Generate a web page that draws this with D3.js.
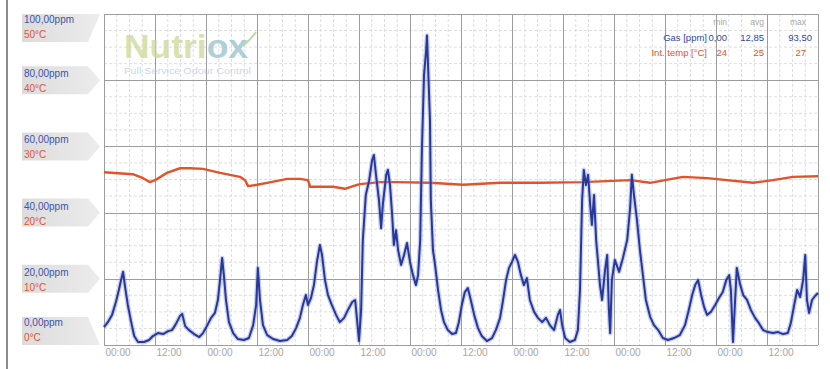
<!DOCTYPE html>
<html>
<head>
<meta charset="utf-8">
<script src="https://cdn.jsdelivr.net/npm/d3@7/dist/d3.min.js"></script>
<style>
  html, body { margin: 0; padding: 0; background: #fff; }
  svg { display: block; font-family: "Liberation Sans", Arial, sans-serif; }
</style>
</head>
<body>
<svg id="chart" width="830" height="369"></svg>
<script>
// Gas concentration (ppm) over one week, hours since the first midnight
const gasHours = [0,0.9,1.9,2.8,3.5,4.0,4.5,4.9,5.6,6.4,7.1,8.0,9.4,10.6,11.5,12.7,13.9,15.1,16.0,16.9,17.9,18.4,19.1,20.0,21.2,22.4,23.3,24.2,25.2,26.1,26.8,27.3,27.8,28.2,28.7,29.4,30.4,31.5,32.9,34.1,35.1,35.8,36.2,36.7,37.4,38.4,39.8,41.4,43.1,44.2,45.2,46.1,46.8,47.5,48.0,48.7,49.4,50.1,50.8,51.3,52.0,52.7,53.6,54.6,55.5,56.5,57.4,58.4,59.1,59.5,60.0,60.5,60.9,61.6,62.4,63.1,63.5,64.0,64.7,65.2,65.6,66.4,66.8,67.3,67.8,68.2,68.7,69.2,69.9,70.6,71.3,72.0,72.7,73.4,73.9,74.4,74.8,75.3,75.8,76.0,76.2,76.7,76.9,77.4,77.9,78.6,79.3,80.0,80.9,81.9,82.8,83.5,84.2,84.9,85.6,86.3,87.1,88.0,88.9,90.1,91.3,92.2,93.2,93.9,94.6,95.3,96.0,96.7,97.4,98.1,98.8,99.5,100.2,101.2,102.1,103.1,104.0,104.9,105.9,106.8,107.3,107.8,108.5,109.6,110.8,111.5,112.0,112.5,112.9,113.4,113.9,114.4,114.8,115.3,115.8,116.2,116.7,117.2,117.9,118.4,118.8,119.1,119.5,120.2,121.2,122.1,123.1,123.8,124.2,124.7,125.4,126.1,126.8,127.5,128.5,129.4,130.4,131.5,132.7,134.1,135.5,136.7,137.6,138.4,139.1,139.8,140.5,141.2,141.9,142.8,143.8,144.7,145.6,146.4,147.1,147.5,148.0,148.5,148.9,149.6,150.4,151.3,152.2,153.2,154.1,155.1,156.2,157.4,158.6,159.8,160.9,161.6,162.4,163.1,163.8,164.5,165.0,165.4,165.9,166.6,167.3,168.0];
const gasPpm = [5.4,6.9,9.1,13.0,16.6,19.6,22.1,18.1,12.1,6.9,2.7,0.9,0.9,1.5,2.7,3.6,3.3,4.2,4.5,6.3,8.8,9.4,5.7,4.5,3.3,2.4,3.6,5.7,8.2,9.7,13.6,19.6,26.3,21.1,13.6,6.9,3.6,1.8,1.5,2.1,6.0,12.1,23.3,13.6,6.0,3.0,1.8,1.2,1.5,2.7,5.1,8.2,12.1,15.1,12.1,14.2,18.1,25.1,30.2,27.2,19.6,15.1,12.1,9.1,6.9,8.2,10.6,13.0,13.6,8.2,1.2,10.6,31.7,45.3,49.8,55.9,57.4,51.4,43.8,35.3,42.3,51.4,52.9,48.3,39.3,30.2,34.7,28.7,24.2,27.2,30.8,25.1,21.1,18.1,21.1,31.7,58.9,81.6,89.1,93.5,86.1,68.0,43.8,28.7,24.2,16.6,10.6,6.9,4.5,3.3,3.6,6.9,12.1,16.0,17.2,13.6,9.1,5.1,2.7,1.2,2.1,4.5,8.2,13.6,19.6,23.3,25.1,27.2,25.1,21.1,18.1,20.2,13.6,10.0,8.2,6.9,8.2,6.0,4.5,9.1,10.6,6.0,2.1,0.9,1.5,4.5,16.6,43.8,52.9,48.3,51.4,42.3,36.3,45.3,31.7,25.7,18.1,13.6,22.7,27.2,10.6,3.6,19.6,25.7,22.1,26.3,31.7,41.4,51.4,45.3,37.8,28.7,21.1,13.6,8.5,6.0,4.5,2.1,1.5,2.1,3.0,6.0,10.6,15.1,18.1,19.6,15.1,11.5,9.1,10.0,12.1,14.2,16.0,19.6,21.1,16.6,0.9,13.6,23.3,18.7,15.1,13.6,10.6,8.2,6.6,4.5,3.9,3.6,3.9,3.3,3.6,6.6,12.1,16.6,14.5,19.6,27.2,13.6,9.7,13.6,14.8,15.7];

// Internal temperature (°C)
const tempHours = [0,6.8,9.2,10.8,12,14.8,17.9,20.2,23.3,27.3,32,33.2,33.9,36,38.4,43.1,46.1,48,48.5,53.9,56.7,58.6,60.2,64.9,68.9,76.7,84.5,93.2,102.6,112.7,123.8,128.5,136.2,141.9,152.7,157.4,162.1,168];
const tempC = [26.1,25.8,25.2,24.6,24.9,26.0,26.7,26.7,26.6,26.0,25.4,24.9,24.0,24.2,24.5,25.1,25.1,24.9,23.9,23.9,23.6,24.0,24.3,24.6,24.6,24.5,24.2,24.5,24.5,24.6,24.9,24.5,25.4,25.2,24.5,24.9,25.4,25.5];

// Axis labels
const tickLabels = ["00:00","12:00","00:00","12:00","00:00","12:00","00:00","12:00","00:00","12:00","00:00","12:00","00:00","12:00"];
const ppmTicks = [100, 80, 60, 40, 20, 0];
const ppmLabels = ["100,00ppm","80,00ppm","60,00ppm","40,00ppm","20,00ppm","0,00ppm"];
const tempLabels = ["50°C","40°C","30°C","20°C","10°C","0°C"];

// Summary table
const statHeaders = ["min","avg","max"];
const seriesNames = ["Gas [ppm]","Int. temp [°C]"];
const gasStats = ["0,00","12,85","93,50"];
const tempStats = ["24","25","27"];

const BLUE = "#27379a";
const RED = "#e2532c";

const svg = d3.select("#chart");
const margin = { left: 104, right: 12, top: 14, bottom: 24 };
const W = 830, H = 369;

const x = d3.scaleLinear().domain([0, 168]).range([margin.left, W - margin.right]);
const y = d3.scaleLinear().domain([0, 100]).range([H - margin.bottom, margin.top]);
const yT = d3.scaleLinear().domain([0, 50]).range([H - margin.bottom, margin.top]);

// frame line on the left
svg.append("line").attr("x1", 7).attr("x2", 7).attr("y1", 0).attr("y2", H)
  .attr("stroke", "#8c8c8c").attr("stroke-width", 2);

// plot background
svg.append("rect").attr("x", x(0)).attr("y", y(100))
  .attr("width", x(168) - x(0)).attr("height", y(0) - y(100)).attr("fill", "#fff");

// minor grid
const grid = svg.append("g");
grid.selectAll("line.vminor").data(d3.range(0, 168, 3).filter(h => h % 12 !== 0))
  .join("line").attr("class", "vminor")
  .attr("x1", d => x(d)).attr("x2", d => x(d)).attr("y1", y(100)).attr("y2", y(0))
  .attr("stroke", "#dedede").attr("stroke-width", 1).attr("stroke-dasharray", "3,2");
grid.selectAll("line.hminor").data(d3.range(0, 100, 5).filter(v => v % 20 !== 0))
  .join("line").attr("class", "hminor")
  .attr("x1", x(0)).attr("x2", x(168)).attr("y1", d => y(d)).attr("y2", d => y(d))
  .attr("stroke", "#dedede").attr("stroke-width", 1).attr("stroke-dasharray", "3,2");

// major grid
grid.selectAll("line.vmajor").data(d3.range(0, 169, 12))
  .join("line").attr("class", "vmajor")
  .attr("x1", d => Math.round(x(d)) + 0.5).attr("x2", d => Math.round(x(d)) + 0.5)
  .attr("y1", y(100)).attr("y2", y(0))
  .attr("stroke", "#9d9d9d").attr("stroke-width", 1);
grid.selectAll("line.hmajor").data(ppmTicks)
  .join("line").attr("class", "hmajor")
  .attr("x1", x(0)).attr("x2", x(168))
  .attr("y1", d => Math.round(y(d)) + 0.5).attr("y2", d => Math.round(y(d)) + 0.5)
  .attr("stroke", "#9d9d9d").attr("stroke-width", 1);

// logo watermark
const logo = svg.append("g").attr("opacity", 0.75);
const logoText = logo.append("text").attr("x", 124).attr("y", 58)
  .attr("font-size", 33).attr("font-weight", "bold")
  .attr("textLength", 124).attr("lengthAdjust", "spacingAndGlyphs");
logoText.append("tspan").attr("fill", "#cbd795").text("Nutri");
logoText.append("tspan").attr("fill", "#93c2cc").text("ox");
logo.append("path").attr("d", "M243,46 Q250,40 256,32").attr("fill", "none")
  .attr("stroke", "#a9cf7e").attr("stroke-width", 2);
logo.append("text").attr("x", 124).attr("y", 74).attr("font-size", 8.5)
  .attr("fill", "#b7cbe0").attr("textLength", 127).attr("lengthAdjust", "spacingAndGlyphs")
  .text("Full Service Odour Control");

// y-axis tags
const defs = svg.append("defs");
const grad = defs.append("linearGradient").attr("id", "tagGrad")
  .attr("x1", "0%").attr("x2", "100%").attr("y1", "0%").attr("y2", "0%");
grad.append("stop").attr("offset", "0%").attr("stop-color", "#dcdcdc");
grad.append("stop").attr("offset", "100%").attr("stop-color", "#ececec");

const tagH = 28, tagL = 22, tagR = 88, tip = 100;
const tags = svg.append("g").selectAll("g").data(ppmTicks).join("g");
tags.append("path").attr("fill", "url(#tagGrad)").attr("d", (d, i) => {
  const gy = y(d);
  if (i === 0) {
    const t = gy, b = gy + tagH;
    return `M${tagL},${t}L${tip},${t}L${tagR},${b}L${tagL},${b}Z`;
  }
  if (i === ppmTicks.length - 1) {
    const t = gy - tagH, b = gy;
    return `M${tagL},${t}L${tagR},${t}L${tip},${b}L${tagL},${b}Z`;
  }
  return `M${tagL},${gy - tagH / 2}L${tagR},${gy - tagH / 2}L${tip},${gy}L${tagR},${gy + tagH / 2}L${tagL},${gy + tagH / 2}Z`;
});
const tagCenter = (d, i) => i === 0 ? y(d) + 13 : (i === ppmTicks.length - 1 ? y(d) - 15 : y(d) + 1);
tags.append("text").attr("x", 24).attr("y", (d, i) => tagCenter(d, i) - 4)
  .attr("font-size", 10).attr("fill", "#4152a8").text((d, i) => ppmLabels[i]);
tags.append("text").attr("x", 24).attr("y", (d, i) => tagCenter(d, i) + 11)
  .attr("font-size", 10).attr("fill", RED).text((d, i) => tempLabels[i]);

// x axis labels
const xAxis = d3.axisBottom(x).tickValues(d3.range(0, 168, 12))
  .tickSize(0).tickPadding(0).tickFormat((d, i) => tickLabels[i]);
const gx = svg.append("g").attr("transform", `translate(0,${y(0) + 4})`).call(xAxis);
gx.select(".domain").remove();
gx.selectAll("text").attr("text-anchor", "start").attr("dx", 1).attr("dy", "0.71em")
  .attr("font-size", 10).attr("fill", "#a6a6a6")
  .attr("font-family", "'Liberation Sans', Arial, sans-serif");

// temperature line
const tempData = tempHours.map((h, i) => [h, tempC[i]]);
svg.append("path").datum(tempData)
  .attr("fill", "none").attr("stroke", RED).attr("stroke-width", 2.4)
  .attr("stroke-linejoin", "round")
  .attr("d", d3.line().x(d => x(d[0])).y(d => yT(d[1])));

// gas line: soft halo plus core stroke
const gasData = gasHours.map((h, i) => [h, gasPpm[i]]);
const gasLine = d3.line().x(d => x(d[0])).y(d => y(d[1]));
svg.append("path").datum(gasData)
  .attr("fill", "none").attr("stroke", "#8896d8").attr("stroke-opacity", 0.45)
  .attr("stroke-width", 4.6).attr("stroke-linejoin", "round").attr("d", gasLine);
svg.append("path").datum(gasData)
  .attr("fill", "none").attr("stroke", BLUE).attr("stroke-width", 2)
  .attr("stroke-linejoin", "round").attr("d", gasLine);

// summary table
const tbl = svg.append("g").attr("font-size", 9.5);
const colX = [727, 764, 812];
tbl.selectAll("text.hdr").data(statHeaders).join("text").attr("class", "hdr")
  .attr("x", (d, i) => colX[i] - (i === 2 ? 6 : 0)).attr("y", 25).attr("text-anchor", "end")
  .attr("fill", "#a8a8a8").attr("font-size", 8.5).text(d => d);
tbl.append("text").attr("x", 707).attr("y", 41).attr("text-anchor", "end")
  .attr("fill", "#3446a4").text(seriesNames[0]);
tbl.append("text").attr("x", 707).attr("y", 56).attr("text-anchor", "end")
  .attr("fill", RED).text(seriesNames[1]);
tbl.selectAll("text.gs").data(gasStats).join("text").attr("class", "gs")
  .attr("x", (d, i) => colX[i]).attr("y", 41).attr("text-anchor", "end")
  .attr("fill", "#3446a4").text(d => d);
tbl.selectAll("text.ts").data(tempStats).join("text").attr("class", "ts")
  .attr("x", (d, i) => colX[i] - (i === 2 ? 6 : 0)).attr("y", 56).attr("text-anchor", "end")
  .attr("fill", RED).text(d => d);
</script>
</body>
</html>
